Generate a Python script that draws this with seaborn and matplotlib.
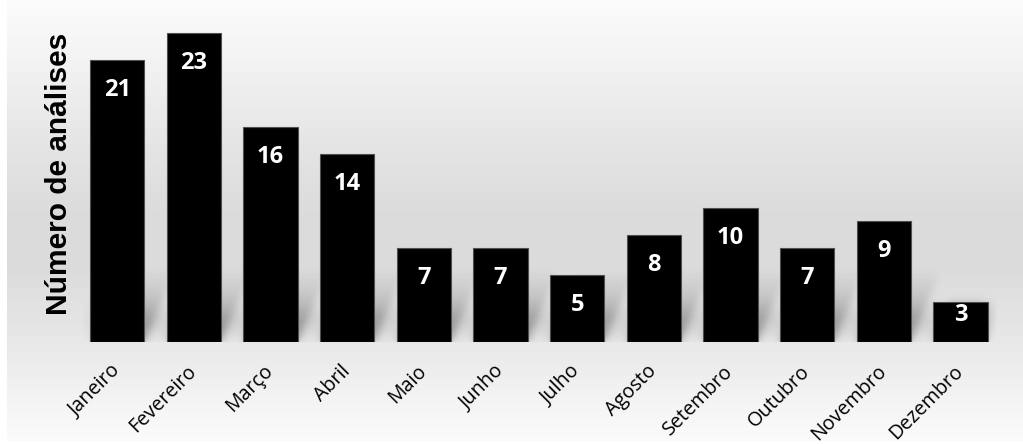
import numpy as np
import pandas as pd
import matplotlib
matplotlib.use("Agg")
import matplotlib.pyplot as plt
import seaborn as sns

# Monthly count of analyses
months = ["Janeiro", "Fevereiro", "Março", "Abril", "Maio", "Junho",
          "Julho", "Agosto", "Setembro", "Outubro", "Novembro", "Dezembro"]
counts = [21, 23, 16, 14, 7, 7, 5, 8, 10, 7, 9, 3]
y_label = "Número de análises"

df = pd.DataFrame({"mes": months, "n": counts})

sns.set_theme(style="white")
plt.rcParams["font.family"] = ["Open Sans", "DejaVu Sans"]

W, H, DPI = 1023, 444, 100
BAR_W = 0.708
YMAX = 25
AX_H_PX = 335.8
fig = plt.figure(figsize=(W / DPI, H / DPI), dpi=DPI)
fig.patch.set_facecolor("white")

# Chart-area background: vertical grey gradient (light top, grey middle, light bottom)
bg = fig.add_axes([0, 0, 1, 1], zorder=-10)
bg.set_axis_off()
rows = np.arange(H)
knots_y = [0, 30, 90, 170, 220, 270, 342, 380, 444]
knots_v = [252, 248, 238, 225, 219, 220, 232, 240, 252]
col = np.interp(rows, knots_y, knots_v) / 255.0
img = np.repeat(col[:, None], W, axis=1)
img[:, :7] = 1.0
img[441:, :] = 1.0
bg.imshow(np.dstack([img, img, img]), extent=(0, W, H, 0), aspect="auto",
          interpolation="bilinear")
bg.set_xlim(0, W)
bg.set_ylim(H, 0)

ax = fig.add_axes([78.9 / W, (H - 342) / H, 919.9 / W, AX_H_PX / H])
ax.set_facecolor("none")


def blur(a, r):
    k = np.exp(-0.5 * (np.arange(-3 * r, 3 * r + 1) / r) ** 2)
    k /= k.sum()
    a = np.apply_along_axis(lambda m: np.convolve(m, k, mode="same"), 0, a)
    return np.apply_along_axis(lambda m: np.convolve(m, k, mode="same"), 1, a)


# Soft floor and slanted cast shadows behind the bars
SH_TOP = 5.5
nx, ny = 920, 74
sx = np.linspace(-0.5, 11.5, nx)
sy = np.linspace(0, SH_TOP, ny)
X, Y = np.meshgrid(sx, sy)
shear = 0.42 * (AX_H_PX / YMAX) / (919.9 / 12)
cast = np.zeros_like(X)
for i, v in enumerate(counts):
    left = i - BAR_W / 2 + shear * Y
    right = i + BAR_W / 2 + shear * Y
    m = (X >= left) & (X <= right) & (Y <= min(v, SH_TOP))
    cast = np.maximum(cast, m * np.clip(1 - Y / SH_TOP, 0, 1))
floor = np.exp(-((sy - 1.5) / 1.2) ** 2)[:, None] * np.ones_like(X)
alpha = blur(0.30 * cast + 0.09 * floor, 4)
edge = np.clip(np.minimum(sx + 0.5, 11.5 - sx) / 0.3, 0, 1)
alpha *= edge[None, :]
shadow = np.zeros((ny, nx, 4))
shadow[..., 3] = alpha
ax.imshow(shadow, extent=(-0.5, 11.5, 0, SH_TOP), origin="lower", aspect="auto",
          interpolation="bilinear", zorder=0)

sns.barplot(data=df, x="mes", y="n", color="black", saturation=1, width=BAR_W,
            edgecolor="#505050", linewidth=0.8, ax=ax, zorder=2)

# Value labels inside the top of each bar; short bars keep the label clear of the base
px_per_unit = AX_H_PX / YMAX
for i, v in enumerate(counts):
    off_px = min(30.0, v * px_per_unit - 27.0)
    ax.annotate(str(v), xy=(i, v), xytext=(0, -off_px * 72 / DPI),
                textcoords="offset points", ha="center", va="center",
                color="white", fontsize=17, fontweight="bold", zorder=3)

ax.set_xlim(-0.5, 11.5)
ax.set_ylim(0, YMAX)
ax.set_yticks([])
ax.set_xlabel("")
ax.set_ylabel(y_label, fontsize=21.5, fontweight="bold",
              family=["Liberation Sans", "DejaVu Sans"], color="black", labelpad=4)
for s in ax.spines.values():
    s.set_visible(False)
ax.tick_params(axis="x", length=0, pad=19)
plt.setp(ax.get_xticklabels(), rotation=45, ha="right", va="center",
         rotation_mode="anchor", fontsize=14.2, color="black")

fig.savefig("out.png", dpi=DPI)
